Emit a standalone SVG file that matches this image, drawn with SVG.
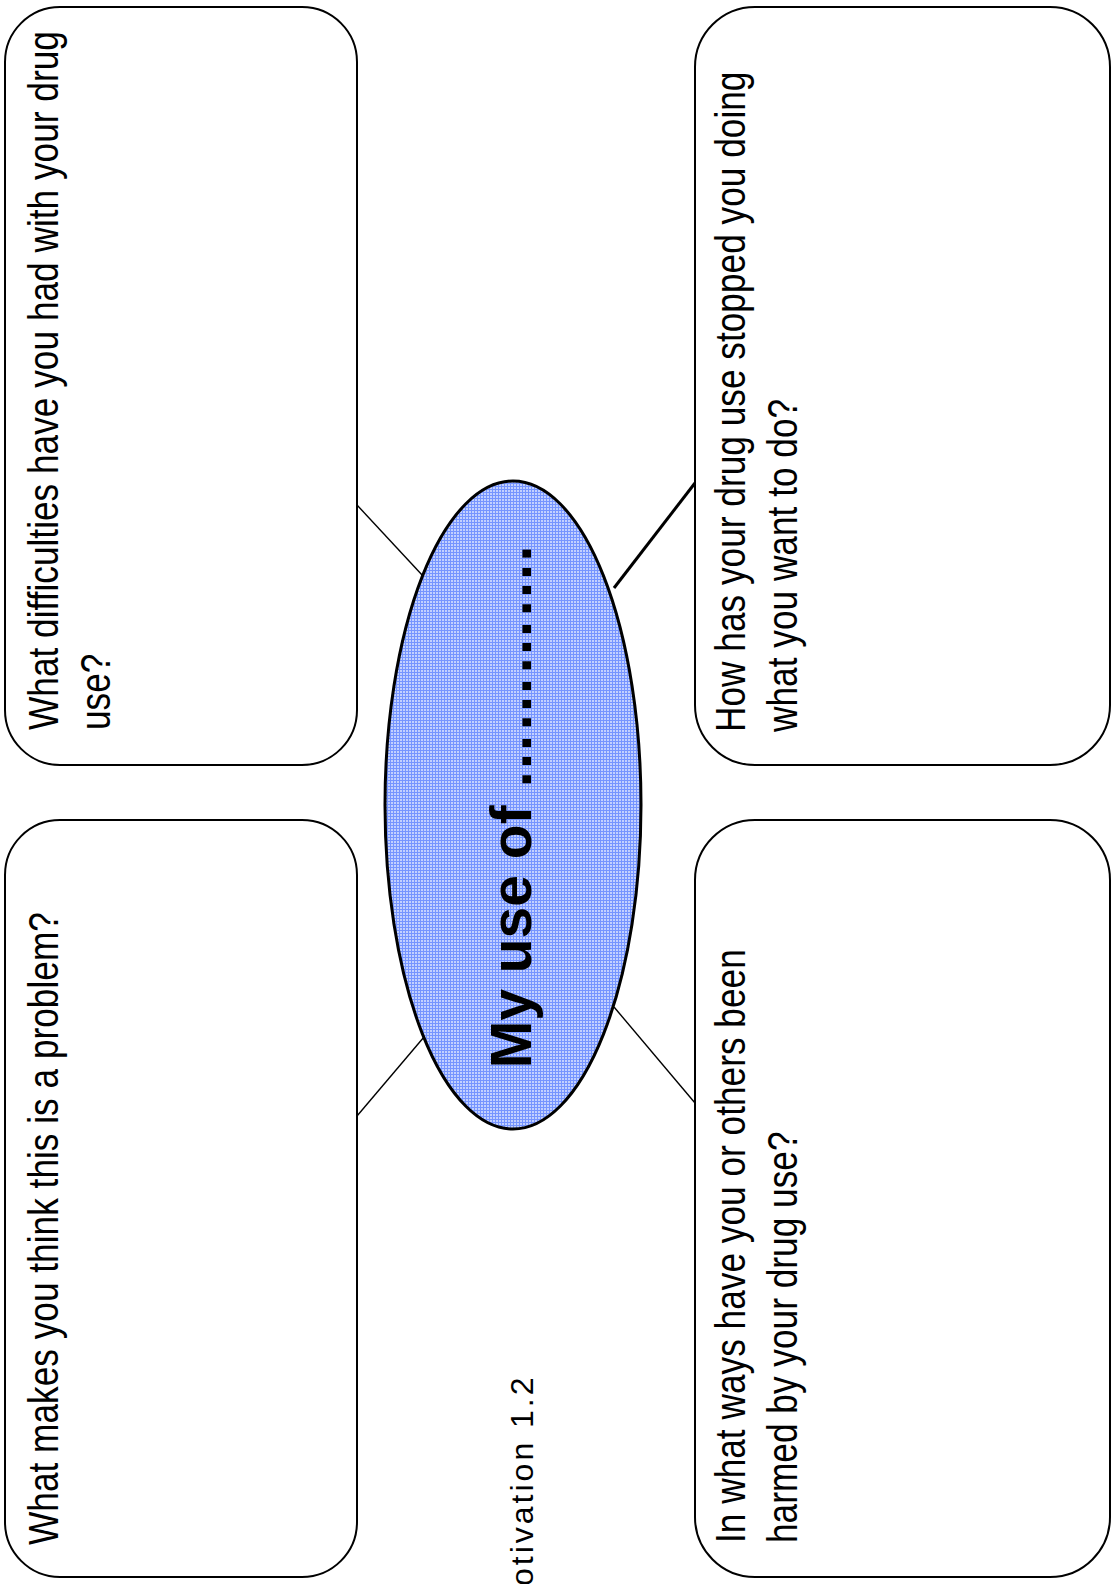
<svg xmlns="http://www.w3.org/2000/svg" width="1112" height="1584" viewBox="0 0 1112 1584">
  <style>
    .box { fill: #ffffff; stroke: #000000; stroke-width: 2; }
    .q { font-family: "Liberation Sans", Arial, sans-serif; font-size: 43px; fill: #000000; }
    .link { stroke: #000000; stroke-width: 1.4; fill: none; }
    .link.thick { stroke-width: 3; }
    .title { font-family: "Liberation Sans", Arial, sans-serif; font-size: 57px; font-weight: bold; fill: #000000; }
    .footer { font-family: "Liberation Sans", Arial, sans-serif; font-size: 32px; letter-spacing: 3px; fill: #000000; }
  </style>
  <defs>
    <!-- fine blue cross-hatch used as the ellipse fill -->
    <pattern id="grid" width="3" height="3" patternUnits="userSpaceOnUse">
      <rect width="3" height="3" fill="#c2d0ff"/>
      <rect width="3" height="1" fill="#7594ff"/>
      <rect width="1" height="3" fill="#7594ff"/>
    </pattern>
  </defs>

  <rect width="1112" height="1584" fill="#ffffff"/>

  <!-- connectors between the central ellipse and the question boxes -->
  <g id="connectors">
    <line class="link" x1="357" y1="505" x2="423" y2="576"/>
    <line class="link thick" x1="614" y1="588" x2="695" y2="483"/>
    <line class="link" x1="357" y1="1116" x2="424" y2="1037"/>
    <line class="link" x1="614" y1="1007" x2="695" y2="1103"/>
  </g>

  <g id="box-difficulties">
    <rect class="box" x="5" y="7" width="352" height="758" rx="55" ry="55"/>
    <text class="q" transform="translate(58,730) rotate(-90) scale(0.82,1)">What difficulties have you had with your drug<tspan x="0" dy="52">use?</tspan></text>
  </g>

  <g id="box-problem">
    <rect class="box" x="5" y="820" width="352" height="757" rx="55" ry="55"/>
    <text class="q" transform="translate(58,1545) rotate(-90) scale(0.82,1)">What makes you think this is a problem?</text>
  </g>

  <g id="box-stopped">
    <rect class="box" x="695" y="7" width="415" height="758" rx="60" ry="60"/>
    <text class="q" transform="translate(745,732) rotate(-90) scale(0.82,1)">How has your drug use stopped you doing<tspan x="0" dy="52">what you want to do?</tspan></text>
  </g>

  <g id="box-harmed">
    <rect class="box" x="695" y="820" width="415" height="757" rx="60" ry="60"/>
    <text class="q" transform="translate(745,1543) rotate(-90) scale(0.82,1)">In what ways have you or others been<tspan x="0" dy="52">harmed by your drug use?</tspan></text>
  </g>

  <g id="centre">
    <ellipse cx="513" cy="805" rx="128" ry="324" fill="url(#grid)" stroke="#000000" stroke-width="3"/>
    <text class="title" text-anchor="middle" transform="translate(531,807) rotate(-90)">My use of ………….</text>
  </g>

  <g id="footer">
    <text class="footer" transform="translate(533,1586) rotate(-90)">otivation 1.2</text>
  </g>
</svg>
